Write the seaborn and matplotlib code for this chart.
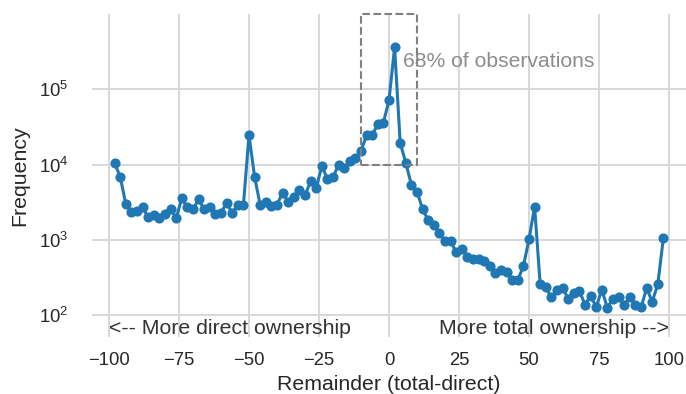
import matplotlib
matplotlib.use("Agg")
import matplotlib.pyplot as plt
from matplotlib.patches import Rectangle
import numpy as np
import pandas as pd
import seaborn as sns

# Remainder bins (total - direct), every 2 points
remainder = list(range(-98, 0, 2)) + list(range(0, 100, 2))

# Observation counts per bin
freq_negative = [
    10500, 6900, 3000, 2350, 2450, 2700, 2000, 2150, 1950, 2200,
    2600, 1950, 3600, 2700, 2550, 3450, 2550, 2700, 2200, 2300,
    3100, 2300, 2900, 2900, 24500, 6900, 2900, 3200, 2800, 2950,
    4250, 3200, 3700, 4650, 3900, 6000, 4900, 9500, 6500, 6800,
    10000, 9000, 11300, 12250, 15300, 24500, 24500, 34500, 36000,
]
freq_positive = [
    72000, 360000, 19500, 10500, 5400, 4400, 2570, 1830, 1590, 1220,
    955, 955, 690, 770, 590, 560, 555, 525, 450, 360,
    400, 380, 295, 295, 450, 1020, 2760, 257, 235, 173,
    215, 228, 167, 200, 212, 138, 182, 129, 218, 126,
    167, 176, 138, 176, 138, 127, 228, 152, 257, 1070,
]
frequency = freq_negative + freq_positive

x_ticks = [-100, -75, -50, -25, 0, 25, 50, 75, 100]
y_ticks = [1e2, 1e3, 1e4, 1e5]

# Central window holding most observations
box_x = (-10, 10)
box_y = (1e4, 1e6)
box_label = "68% of observations"

df = pd.DataFrame({"remainder": remainder, "frequency": frequency})

sns.set_theme(style="whitegrid")
plt.rcParams["font.family"] = ["Liberation Sans", "DejaVu Sans"]
plt.rcParams["axes.unicode_minus"] = True

fig = plt.figure(figsize=(6.86, 3.94), dpi=100)
ax = fig.add_axes([0.1344, 0.1454, 0.8653, 0.8191])

sns.lineplot(
    data=df, x="remainder", y="frequency", ax=ax,
    color="#1f77b4", linewidth=2.2, marker="o", markersize=7.3,
    markeredgewidth=0, markeredgecolor="#1f77b4",
)

ax.set_yscale("log")
ax.set_xlim(-106, 106)
ax.set_ylim(52, 1e6)
ax.set_xticks(x_ticks)
ax.set_yticks(y_ticks)
ax.minorticks_off()

ax.grid(True, color="#d6d6d6", linewidth=1.3)
sns.despine(ax=ax, left=True, bottom=True)

ax.tick_params(axis="x", labelsize=13.3, pad=5, colors="#262626")
ax.tick_params(axis="y", labelsize=13.3, pad=11, colors="#262626")
ax.set_xlabel("Remainder (total-direct)", fontsize=15.3, color="#262626", labelpad=4.5)
ax.set_ylabel("Frequency", fontsize=15.3, color="#262626", labelpad=7)

rect = Rectangle(
    (box_x[0], box_y[0]), box_x[1] - box_x[0], box_y[1] - box_y[0],
    fill=False, edgecolor="#808080", linestyle="--", linewidth=1.5,
    clip_on=False, zorder=3,
)
ax.add_patch(rect)
ax.text(5, 2e5, box_label, fontsize=15.2, color="#8c8c8c")

ax.text(-100, 56, "<-- More direct ownership", fontsize=15.3, color="#333333",
        ha="left", va="baseline")
ax.text(100, 56, "More total ownership -->", fontsize=15.3, color="#333333",
        ha="right", va="baseline")

fig.savefig("out.png", dpi=100)
